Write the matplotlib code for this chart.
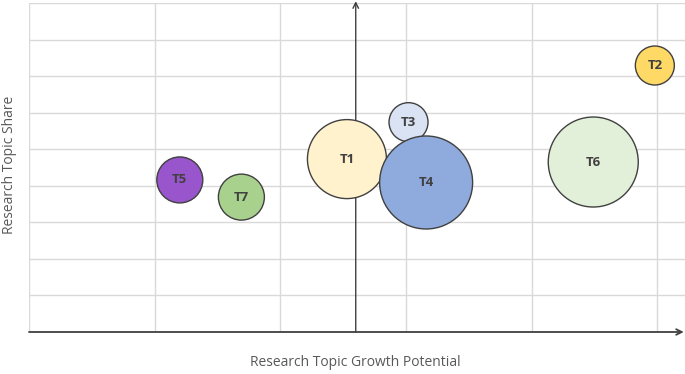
import matplotlib.pyplot as plt

# topic bubbles
topics = ["T1", "T2", "T3", "T4", "T5", "T6", "T7"]
growth = [2.53, 4.98, 3.02, 3.16, 1.20, 4.49, 1.69]
share = [4.73, 7.29, 5.74, 4.09, 4.16, 4.65, 3.69]
bubble_r = [39.5, 19.5, 19.5, 46.5, 23, 45, 23]   # radius, px
colors = ["#FFF2CC", "#FFD966", "#DAE3F3", "#8FAADC",
          "#9955CC", "#E2F0D9", "#A9D18E"]

dpi = 100
fig = plt.figure(figsize=(6.85, 3.74), dpi=dpi)
ax = fig.add_axes([29 / 685, 42 / 374, 656 / 685, 329 / 374])

ax.set_xlim(0, 5.22)
ax.set_ylim(0, 9)
ax.set_xticks(range(0, 6))
ax.set_yticks(range(0, 10))
ax.grid(True, color="#d9d9d9", linewidth=1)
ax.tick_params(length=0, labelbottom=False, labelleft=False)
for s in ax.spines.values():
    s.set_visible(False)
ax.set_axisbelow(True)

# axes drawn as arrows
ax.annotate("", xy=(5.21, 0), xytext=(0, 0), annotation_clip=False,
            arrowprops=dict(arrowstyle="->", color="#404040", lw=1.3,
                            shrinkA=0, shrinkB=0))
ax.annotate("", xy=(2.6, 9.05), xytext=(2.6, 0), annotation_clip=False,
            arrowprops=dict(arrowstyle="->", color="#404040", lw=1.0,
                            shrinkA=0, shrinkB=0))

sizes = [(2 * r * 72 / dpi) ** 2 for r in bubble_r]
ax.scatter(growth, share, s=sizes, c=colors, edgecolors="#404040",
           linewidths=1, zorder=3, clip_on=False)
for name, x, y in zip(topics, growth, share):
    ax.text(x, y, name, ha="center", va="center", fontsize=9.5,
            fontweight="bold", color="#404040", family="Open Sans", zorder=4)

fig.text(355 / 685, 1 - 363 / 374, "Research Topic Growth Potential",
         ha="center", va="center", fontsize=10, color="#595959",
         family="Open Sans")
fig.text(10 / 685, 1 - 165 / 374, "Research Topic Share", rotation=90,
         ha="center", va="center", fontsize=10, color="#595959",
         family="Open Sans")

fig.savefig("out.png", dpi=dpi)
